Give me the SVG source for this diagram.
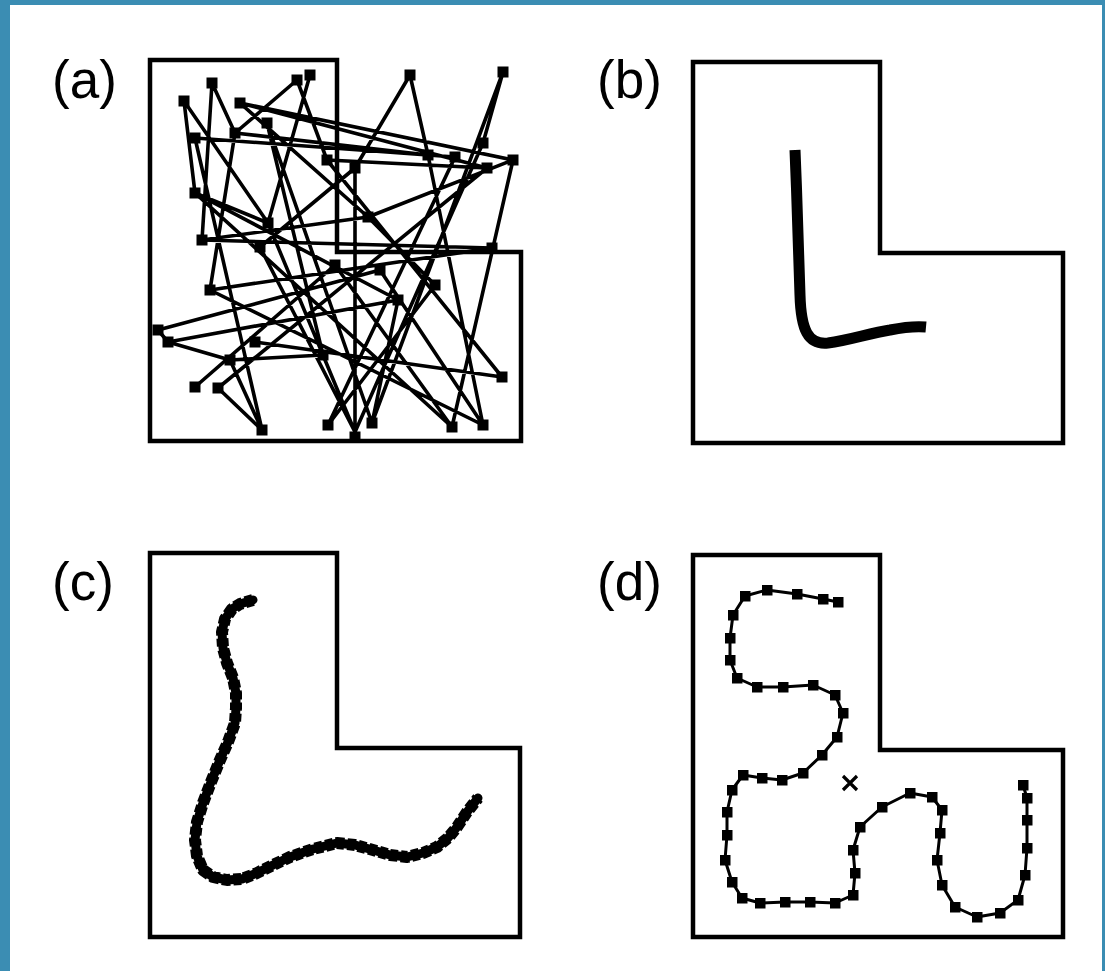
<svg xmlns="http://www.w3.org/2000/svg" width="1105" height="971" viewBox="0 0 1105 971">
<defs>
<style>
.frame{fill:none;stroke:#000;stroke-width:4.5;stroke-linejoin:miter}
.lbl{font-family:"Liberation Sans",Arial,sans-serif;font-size:53px;fill:#000}
.edge{fill:none;stroke:#000;stroke-width:3.6;stroke-linecap:round}
.nd rect{fill:#000;width:11px;height:11px}
.chain{fill:none;stroke:#000;stroke-width:3;stroke-linejoin:round}
</style>
<marker id="sq" viewBox="0 0 11 11" refX="5.5" refY="5.5" markerWidth="11" markerHeight="11" markerUnits="userSpaceOnUse">
<rect x="0" y="0" width="11" height="11" fill="#000"/>
</marker>
</defs>
<rect x="0" y="0" width="1105" height="971" fill="#3b8db3"/>
<rect x="10" y="5" width="1092" height="966" fill="#fff"/>

<g id="panel-a">
<text class="lbl" x="52" y="98">(a)</text>
<path class="frame" d="M150,60 H337 V252 H521 V441 H150 Z"/>
<g id="connectors-a">
<path class="edge" d="
M184,101 L268,223 M268,223 L355,432
M212,83 L235,133 M212,83 L202,240
M240,103 L513,160 M240,103 L487,168 M240,103 L368,217
M297,80 L235,133 M297,80 L327,160
M310,75 L268,223
M410,75 L355,168 M410,75 L428,155
M503,72 L483,143 M503,72 L372,423
M195,138 L455,157 M195,138 L262,430
M235,133 L428,155
M267,123 L323,355
M483,143 L355,432
M513,160 L368,217 M513,160 L452,427
M455,157 L328,425
M428,155 L483,425
M327,160 L487,168
M355,168 L355,432
M487,168 L218,388
M195,193 L398,300 M195,193 L452,427
M368,217 L202,240 M368,217 L435,285
M202,240 L492,248
M158,330 L380,270 M158,330 L168,342
M168,342 L398,300 M168,342 L230,360
M210,290 L492,248 M210,290 L483,425
M230,360 L262,430
M195,387 L335,265
M218,388 L262,430
M255,342 L502,377
M328,425 L435,285
M355,432 L260,247
M372,423 L267,123
M452,427 L335,265
M483,425 L380,270
M502,377 L327,160
M323,355 L230,360
M235,133 L210,290
M260,247 L355,168
M398,300 L372,423
M195,193 L268,223
M184,101 L195,193
"/>
</g>
<g id="nodes-a" class="nd">
<rect x="178.5" y="95.5"/>
<rect x="206.5" y="77.5"/>
<rect x="234.5" y="97.5"/>
<rect x="291.5" y="74.5"/>
<rect x="304.5" y="69.5"/>
<rect x="404.5" y="69.5"/>
<rect x="497.5" y="66.5"/>
<rect x="189.5" y="132.5"/>
<rect x="229.5" y="127.5"/>
<rect x="261.5" y="117.5"/>
<rect x="477.5" y="137.5"/>
<rect x="507.5" y="154.5"/>
<rect x="449.5" y="151.5"/>
<rect x="422.5" y="149.5"/>
<rect x="321.5" y="154.5"/>
<rect x="349.5" y="162.5"/>
<rect x="481.5" y="162.5"/>
<rect x="189.5" y="187.5"/>
<rect x="262.5" y="217.5"/>
<rect x="362.5" y="211.5"/>
<rect x="196.5" y="234.5"/>
<rect x="152.5" y="324.5"/>
<rect x="162.5" y="336.5"/>
<rect x="204.5" y="284.5"/>
<rect x="224.5" y="354.5"/>
<rect x="189.5" y="381.5"/>
<rect x="212.5" y="382.5"/>
<rect x="256.5" y="424.5"/>
<rect x="249.5" y="336.5"/>
<rect x="322.5" y="419.5"/>
<rect x="349.5" y="431.5"/>
<rect x="366.5" y="417.5"/>
<rect x="446.5" y="421.5"/>
<rect x="477.5" y="419.5"/>
<rect x="496.5" y="371.5"/>
<rect x="317.5" y="349.5"/>
<rect x="392.5" y="294.5"/>
<rect x="374.5" y="264.5"/>
<rect x="429.5" y="279.5"/>
<rect x="329.5" y="259.5"/>
<rect x="486.5" y="242.5"/>
<rect x="254.5" y="241.5"/>
</g>
</g>

<g id="panel-b">
<text class="lbl" x="597" y="98">(b)</text>
<path class="frame" d="M693,62 H880 V253 H1063 V443 H693 Z"/>
<path d="M795,150 C797,200 799,255 800,295 C801,330 808,345 828,343 C850,340 870,333 890,330 C905,327 915,326 926,327" fill="none" stroke="#000" stroke-width="11"/>
</g>

<g id="panel-c">
<text class="lbl" x="52" y="600">(c)</text>
<path class="frame" d="M150,553 H337 V748 H520 V937 H150 Z"/>
<polyline fill="none" stroke="#000" stroke-width="9" stroke-linejoin="round" stroke-linecap="round" points="253,600 240,604 232,609 225,619 222,632 223,648 227,663 233,678 236,693 236,708 235,723 228,742 220,760 211,782 203,803 197,822 195,840 197,856 203,870 213,877 227,880 242,879 257,873 273,865 290,857 313,849 337,843 355,845 373,850 390,855 407,857 423,853 437,847 448,838 457,827 467,812 478,798"/>
<polyline fill="none" stroke="#000" stroke-width="12" stroke-dasharray="8 3" stroke-linejoin="round" points="253,600 240,604 232,609 225,619 222,632 223,648 227,663 233,678 236,693 236,708 235,723 228,742 220,760 211,782 203,803 197,822 195,840 197,856 203,870 213,877 227,880 242,879 257,873 273,865 290,857 313,849 337,843 355,845 373,850 390,855 407,857 423,853 437,847 448,838 457,827 467,812 478,798"/>
</g>

<g id="panel-d">
<text class="lbl" x="597" y="600">(d)</text>
<path class="frame" d="M693,555 H880 V750 H1063 V937 H693 Z"/>
<polyline class="chain" marker-start="url(#sq)" marker-mid="url(#sq)" marker-end="url(#sq)" points="838,602 823,599 797,594 767,590 745,596 733,615 730,638 730,660 737,678 757,687 783,687 813,685 835,695 843,713 837,737 822,755 803,773 782,780 762,778 743,775 732,790 727,812 727,835 725,860 732,882 742,898 760,903 785,902 810,902 835,903 853,895 855,873 853,850 860,827 882,807 910,793 932,797 942,810 940,833 937,860 942,885 955,907 977,917 1000,913 1018,900 1025,875 1027,848 1027,820 1027,798 1023,785"/>
<path d="M843,776 L857,790 M857,776 L843,790" stroke="#000" stroke-width="3.2" fill="none"/>
</g>
</svg>
